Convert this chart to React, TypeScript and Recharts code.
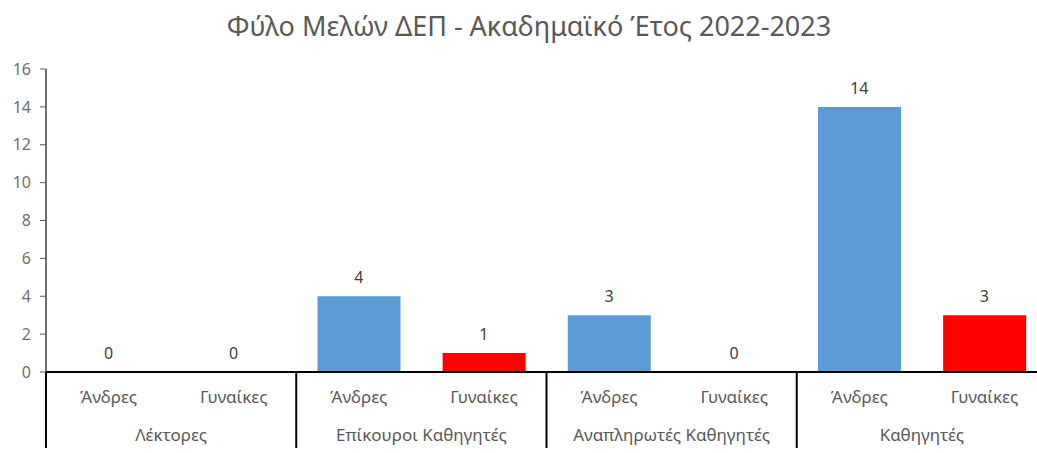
import React from 'react';
import { ComposedChart, Bar, Line, XAxis, YAxis, Cell, LabelList } from 'recharts';

const subLabels = ['Άνδρες', 'Γυναίκες', 'Άνδρες', 'Γυναίκες', 'Άνδρες', 'Γυναίκες', 'Άνδρες', 'Γυναίκες'];
const groupLabels = ['Λέκτορες', 'Λέκτορες', 'Επίκουροι Καθηγητές', 'Επίκουροι Καθηγητές', 'Αναπληρωτές Καθηγητές', 'Αναπληρωτές Καθηγητές', 'Καθηγητές', 'Καθηγητές'];
const values = [0, 0, 4, 1, 3, 0, 14, 3];
const yTicks = [0, 2, 4, 6, 8, 10, 12, 14, 16];

const MALE = '#5B9BD5';
const FEMALE = '#FF0000';
const TEXT = '#595959';
const FONT = '"Noto Sans", sans-serif';

const CHART_W = 1050;
const CHART_H = 453;
const LEFT = 46;
const RIGHT = 3; // plot ends at 1047, just past the window edge
const BAND = (CHART_W - LEFT - RIGHT) / values.length;

const data = values.map((v, i) => ({
  sub: subLabels[i],
  group: groupLabels[i],
  value: v,
  color: i % 2 === 0 ? MALE : FEMALE,
}));

// sub label per bar, group label + separators once per pair
const TwoLevelTick = (props: any) => {
  const { x, y, payload, index } = props;
  const i = index ?? payload.index;
  const isFirst = i % 2 === 0;
  return (
    <g>
      <text x={x} y={y + 31} textAnchor="middle" fill={TEXT} fontSize={17} fontFamily={FONT}>
        {payload.value}
      </text>
      {isFirst && (
        <>
          <line x1={x - BAND / 2} x2={x - BAND / 2} y1={y} y2={y + 76} stroke="#000" strokeWidth={2} />
          <text x={x + BAND / 2} y={y + 69} textAnchor="middle" fill={TEXT} fontSize={17} fontFamily={FONT}>
            {groupLabels[i]}
          </text>
        </>
      )}
      {i === values.length - 1 && (
        <line x1={x + BAND / 2} x2={x + BAND / 2} y1={y} y2={y + 76} stroke="#000" strokeWidth={2} />
      )}
    </g>
  );
};

export default function App() {
  return (
    <div style={{ position: 'absolute', left: 0, top: 0, width: 1037, height: 453, overflow: 'hidden', background: '#fff' }}>
      <div
        style={{
          position: 'absolute',
          top: 7,
          left: 0,
          width: 1058,
          textAlign: 'center',
          fontFamily: FONT,
          fontSize: 27,
          color: TEXT,
          whiteSpace: 'nowrap',
        }}
      >
        Φύλο Μελών ΔΕΠ - Ακαδημαϊκό Έτος 2022-2023
      </div>
      <div style={{ position: 'absolute', left: 0, top: 0 }}>
        <ComposedChart
          width={CHART_W}
          height={CHART_H}
          data={data}
          margin={{ top: 69, right: RIGHT, bottom: 0, left: 0 }}
          barCategoryGap="17%"
        >
          <XAxis
            dataKey="sub"
            interval={0}
            height={81}
            tickSize={0}
            tickMargin={0}
            tickLine={false}
            axisLine={{ stroke: '#000', strokeWidth: 2 }}
            tick={<TwoLevelTick />}
          />
          <YAxis
            width={LEFT}
            domain={[0, 16]}
            ticks={yTicks}
            interval={0}
            tickSize={6}
            tickMargin={9}
            axisLine={{ stroke: '#404040', strokeWidth: 1.5 }}
            tickLine={{ stroke: '#595959' }}
            tick={{ fill: '#6f6f6f', fontSize: 16, fontFamily: FONT }}
          />
          <Bar dataKey="value" isAnimationActive={false}>
            {data.map((d, i) => (
              <Cell key={i} fill={d.color} />
            ))}
          </Bar>
          <Line dataKey="value" stroke="none" dot={false} activeDot={false} isAnimationActive={false}>
            <LabelList dataKey="value" position="top" offset={13} fill="#404040" fontSize={16} fontFamily={FONT} />
          </Line>
        </ComposedChart>
      </div>
    </div>
  );
}
